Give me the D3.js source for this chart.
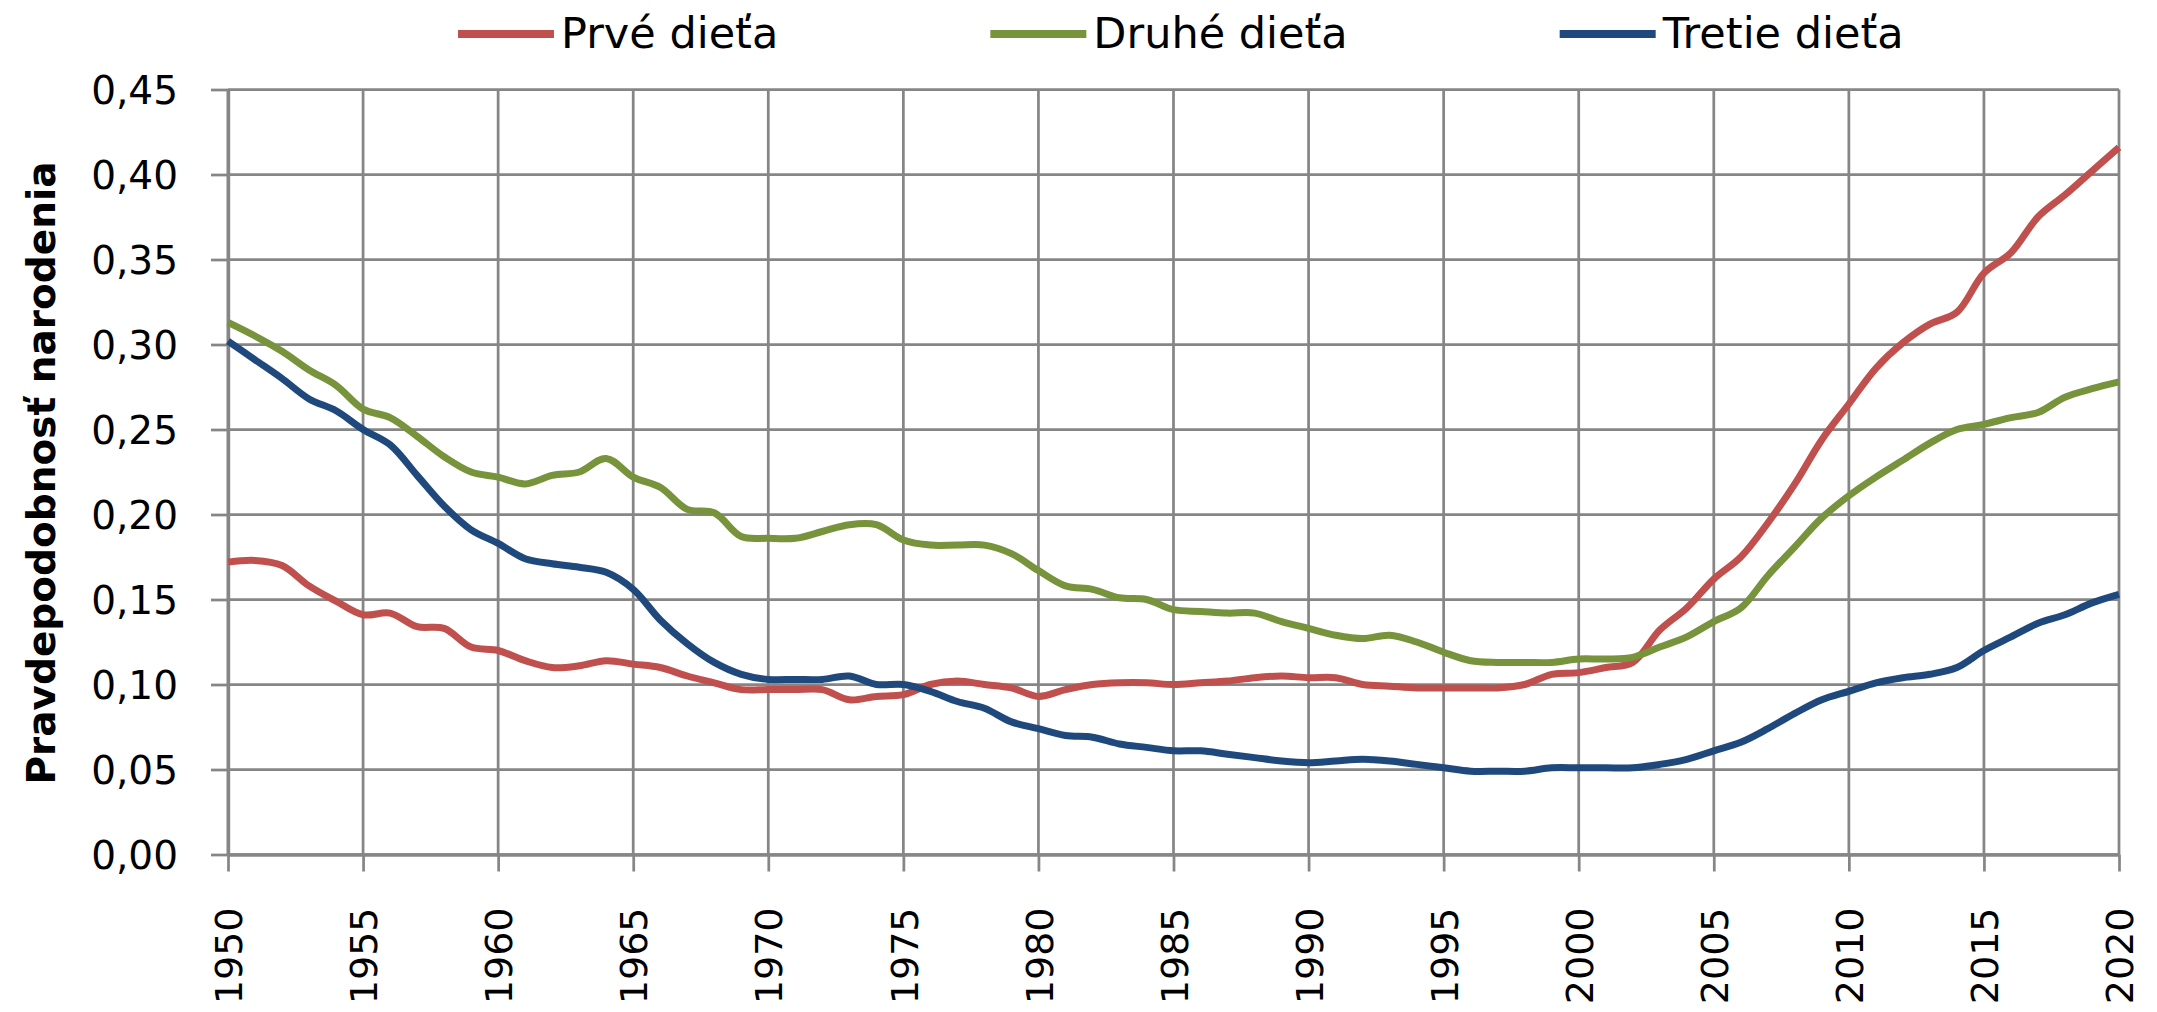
<!DOCTYPE html>
<html>
<head>
<meta charset="utf-8">
<script src="https://cdn.jsdelivr.net/npm/d3@7"></script>
<style>
body {margin:0; background:#fff;}
svg {display:block;}
</style>
</head>
<body>
<div id="chart"></div>
<script>
// ##### data #####
var seriesNames = ["Prvé dieťa", "Druhé dieťa", "Tretie dieťa"];
var seriesColors = ["#C0504D", "#77933C", "#1F497D"];
var years = d3.range(1950, 2021);

var prve = [0.172,0.173,0.170,0.158,0.149,0.141,0.142,0.134,0.133,0.122,
	0.120,0.114,0.110,0.111,0.114,0.112,0.110,0.105,0.101,0.097,
	0.097,0.097,0.097,0.091,0.093,0.094,0.100,0.102,0.100,0.098,
	0.093,0.097,0.100,0.101,0.101,0.100,0.101,0.102,0.104,0.105,
	0.104,0.104,0.100,0.099,0.098,0.098,0.098,0.098,0.100,0.106,
	0.107,0.110,0.113,0.132,0.145,0.162,0.175,0.195,0.218,0.244,
	0.265,0.286,0.301,0.312,0.319,0.342,0.354,0.375,0.388,0.402,
	0.416];
var druhe = [0.313,0.305,0.296,0.285,0.276,0.262,0.257,0.246,0.234,0.225,
	0.222,0.218,0.223,0.225,0.233,0.222,0.216,0.203,0.201,0.187,
	0.186,0.186,0.190,0.194,0.194,0.185,0.182,0.182,0.182,0.177,
	0.167,0.158,0.156,0.151,0.150,0.144,0.143,0.142,0.142,0.137,
	0.133,0.129,0.127,0.129,0.125,0.119,0.114,0.113,0.113,0.113,
	0.115,0.115,0.116,0.122,0.128,0.137,0.145,0.164,0.181,0.198,
	0.211,0.222,0.232,0.242,0.250,0.253,0.257,0.260,0.269,0.274,
	0.278];
var tretie = [0.302,0.291,0.280,0.268,0.261,0.250,0.241,0.223,0.205,0.191,
	0.183,0.174,0.171,0.169,0.166,0.156,0.138,0.124,0.113,0.106,
	0.103,0.103,0.103,0.105,0.100,0.100,0.096,0.090,0.086,0.078,
	0.074,0.070,0.069,0.065,0.063,0.061,0.061,0.059,0.057,0.055,
	0.054,0.055,0.056,0.055,0.053,0.051,0.049,0.049,0.049,0.051,
	0.051,0.051,0.051,0.053,0.056,0.061,0.066,0.074,0.083,0.091,
	0.096,0.101,0.104,0.106,0.110,0.120,0.128,0.136,0.141,0.148,
	0.153];

var yTicks = [0, 0.05, 0.10, 0.15, 0.20, 0.25, 0.30, 0.35, 0.40, 0.45];
var xTicks = [1950,1955,1960,1965,1970,1975,1980,1985,1990,1995,2000,2005,2010,2015,2020];
var yTitle = "Pravdepodobnosť narodenia";

// ##### layout #####
var W = 2157, H = 1012;
var margin = {top: 89.5, right: 38, bottom: 157.5, left: 228};
var width = W - margin.left - margin.right;
var height = H - margin.top - margin.bottom;
var font = '"DejaVu Sans", Verdana, sans-serif';
var gridColor = "#868686";

var svg = d3.select("#chart").append("svg")
	.attr("width", W)
	.attr("height", H)
	.style("font-family", font);

var g = svg.append("g").attr("transform", "translate(" + margin.left + "," + margin.top + ")");

var x = d3.scaleLinear().domain([1950, 2020]).range([0, width]);
var y = d3.scaleLinear().domain([0, 0.45]).range([height, 0]);

var sk = d3.formatLocale({decimal: ",", thousands: " ", grouping: [3], currency: ["", " €"]});
var fmt = sk.format(".2f");

var series = [prve, druhe, tretie].map(function(vals, i) {
	return {
		name: seriesNames[i],
		color: seriesColors[i],
		values: years.map(function(yr, j) { return {year: yr, value: vals[j]}; })
	};
});

// gridlines
g.append("g").selectAll("line.hgrid")
	.data(yTicks)
	.enter().append("line")
	.attr("x1", 0).attr("x2", width)
	.attr("y1", function(d) { return y(d); })
	.attr("y2", function(d) { return y(d); })
	.attr("stroke", gridColor)
	.attr("stroke-width", 2.75);

g.append("g").selectAll("line.vgrid")
	.data(xTicks)
	.enter().append("line")
	.attr("y1", 0).attr("y2", height)
	.attr("x1", function(d) { return x(d); })
	.attr("x2", function(d) { return x(d); })
	.attr("stroke", gridColor)
	.attr("stroke-width", 2.75);

// axes
var xAxis = g.append("g")
	.attr("transform", "translate(0," + height + ")")
	.call(d3.axisBottom(x).tickValues(xTicks).tickSize(17).tickSizeOuter(0).tickFormat(d3.format("d")));

xAxis.attr("font-family", font).attr("font-size", 38).attr("color", gridColor);
xAxis.select(".domain").attr("stroke-width", 3.4);
xAxis.selectAll(".tick line").attr("stroke-width", 2.75);
xAxis.selectAll(".tick text")
	.attr("fill", "#000")
	.attr("transform", "rotate(-90)")
	.attr("x", -53)
	.attr("y", 0)
	.attr("dy", "0.36em")
	.style("text-anchor", "end");

var yAxis = g.append("g")
	.call(d3.axisLeft(y).tickValues(yTicks).tickSize(17).tickSizeOuter(0).tickPadding(33).tickFormat(fmt));

yAxis.attr("font-family", font).attr("font-size", 39).attr("color", gridColor);
yAxis.select(".domain").attr("stroke-width", 3.4);
yAxis.selectAll(".tick line").attr("stroke-width", 2.75);
yAxis.selectAll(".tick text").attr("fill", "#000").attr("dy", "0.36em");

// lines
var line = d3.line()
	.curve(d3.curveCatmullRom.alpha(0.5))
	.x(function(d) { return x(d.year); })
	.y(function(d) { return y(d.value); });

g.selectAll(".serie")
	.data(series)
	.enter().append("path")
	.attr("class", "serie")
	.attr("d", function(d) { return line(d.values); })
	.attr("fill", "none")
	.attr("stroke", function(d) { return d.color; })
	.attr("stroke-width", 7)
	.attr("stroke-linejoin", "round");

// y title
svg.append("text")
	.attr("transform", "translate(44.5,473) rotate(-90)")
	.attr("text-anchor", "middle")
	.attr("dy", "0.28em")
	.attr("font-weight", "bold")
	.attr("font-size", 39)
	.attr("fill", "#000")
	.text(yTitle);

// legend
var lx = 458;
series.forEach(function(s) {
	var lg = svg.append("g").attr("transform", "translate(" + lx + ",0)");
	lg.append("line")
		.attr("x1", 0).attr("x2", 96)
		.attr("y1", 34).attr("y2", 34)
		.attr("stroke", s.color)
		.attr("stroke-width", 8);
	var t = lg.append("text")
		.attr("x", 103)
		.attr("y", 48)
		.attr("font-size", 43)
		.attr("fill", "#000")
		.text(s.name);
	lx += 103 + t.node().getComputedTextLength() + 212;
});
</script>
</body>
</html>
